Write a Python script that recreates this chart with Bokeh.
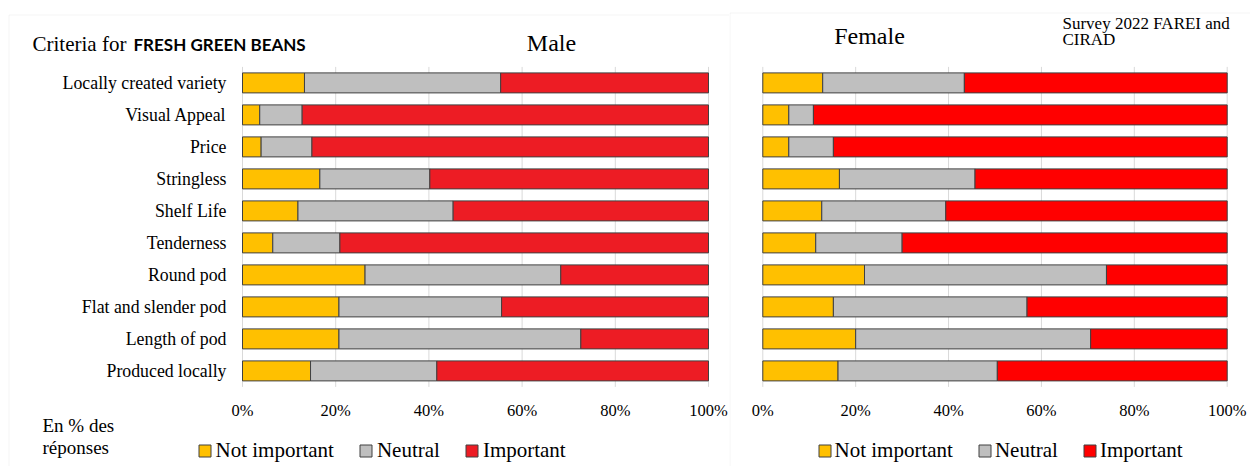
from bokeh.plotting import figure
from bokeh.models import (ColumnDataSource, Range1d, Label, Legend,
                          LegendItem, BoxAnnotation)
from bokeh.core.properties import value
from bokeh.layouts import row
from bokeh.embed import file_html
from bokeh.resources import INLINE

# ---------------- data (top to bottom) ----------------
categories = ["Locally created variety", "Visual Appeal", "Price", "Stringless",
              "Shelf Life", "Tenderness", "Round pod", "Flat and slender pod",
              "Length of pod", "Produced locally"]
series_names = ["Not important", "Neutral", "Important"]

male_not_important = [13.3, 3.7, 4.0, 16.6, 11.9, 6.5, 26.3, 20.7, 20.7, 14.6]
male_neutral = [42.1, 9.1, 10.9, 23.6, 33.3, 14.4, 42.0, 34.9, 51.9, 27.1]
male_important = [44.6, 87.2, 85.1, 59.8, 54.8, 79.1, 31.7, 44.4, 27.4, 58.3]

female_not_important = [12.9, 5.6, 5.6, 16.5, 12.7, 11.4, 21.9, 15.2, 20.0, 16.2]
female_neutral = [30.5, 5.3, 9.6, 29.2, 26.7, 18.6, 52.1, 41.7, 50.6, 34.3]
female_important = [56.6, 89.1, 84.8, 54.3, 60.6, 70.0, 26.0, 43.1, 29.4, 49.5]

x_ticks = [0, 20, 40, 60, 80, 100]
x_tick_labels = ["0%", "20%", "40%", "60%", "80%", "100%"]

YELLOW = "#FFC000"
GREY = "#BFBFBF"
MALE_RED = "#ED1C24"
FEMALE_RED = "#FF0000"
EDGE = "#404040"
GRID = "#D9D9D9"
PANEL = "#D9D9D9"
SERIF = "Liberation Serif"

H = 466          # canvas height
ROW_PX = 32.0    # pixels per category
TOP_ROW_PX = 82.4


def make_panel(width, bar_left_px, bar_px, vals, red, show_y, legend_xy, spacing,
               standoff):
    n = len(categories)
    ypos = [n - 1 - i for i in range(n)]
    src = ColumnDataSource(dict(y=ypos, cat=categories,
                                a=vals[0], b=vals[1], c=vals[2]))
    s = bar_px / 100.0
    xr = Range1d(-bar_left_px / s, (width - bar_left_px) / s)
    yr = Range1d((n - 1) - (H - TOP_ROW_PX) / ROW_PX, (n - 1) + TOP_ROW_PX / ROW_PX)
    p = figure(width=width, height=H, x_range=xr, y_range=yr,
               output_backend="svg", toolbar_location=None,
               x_axis_location=None, y_axis_location=None,
               min_border=0, min_border_left=0, min_border_right=0,
               min_border_top=0, min_border_bottom=0)
    p.outline_line_color = None
    p.background_fill_color = "white"
    p.border_fill_color = "white"
    p.grid.visible = False

    # vertical gridlines
    p.segment(x0=x_ticks, x1=x_ticks, y0=-0.5, y1=n - 0.5,
              line_color=GRID, line_width=1)

    # x tick labels
    p.text(x=x_ticks, y=-1.2375, text=x_tick_labels, text_align="center",
           text_baseline="middle", text_font=value(SERIF),
           text_font_size="16.5px", text_color="#000000")

    if show_y:
        p.text(x=-16.0 / s, y="y", text="cat", source=src, text_align="right",
               text_baseline="middle", text_font=value(SERIF),
               text_font_size="17.8px", text_color="#000000")

    rs = p.hbar_stack(["a", "b", "c"], y="y", height=0.625, source=src,
                      fill_color=[YELLOW, GREY, red], line_color=EDGE,
                      line_width=1)

    legend = Legend(items=[LegendItem(label=sn, renderers=[r])
                           for sn, r in zip(series_names, rs)],
                    orientation="horizontal", location=legend_xy,
                    glyph_width=15, glyph_height=15, label_standoff=standoff,
                    spacing=spacing, padding=0, margin=0,
                    border_line_color=None, background_fill_alpha=0,
                    label_text_font=SERIF, label_text_font_size="21px",
                    label_text_color="#000000")
    p.add_layout(legend)
    return p, s


male_fig, sm = make_panel(729, 242.0, 466.0,
                          [male_not_important, male_neutral, male_important],
                          MALE_RED, True, (196.5, 3), 24, 4)
female_fig, sf = make_panel(521, 33.3, 464.4,
                            [female_not_important, female_neutral, female_important],
                            FEMALE_RED, False, (87.5, 3), 24, 3)


def px_to_x(px, left, s):
    return (px - left) / s


def px_to_y(py):
    return 9 - (py - TOP_ROW_PX) / ROW_PX


# panel borders (only left and top edges fall inside each canvas)
male_fig.add_layout(BoxAnnotation(left=px_to_x(8.5, 242.0, sm), right=500,
                                  top=px_to_y(14.5), bottom=-20,
                                  fill_color=None, fill_alpha=0,
                                  line_color=PANEL, line_width=1))
female_fig.add_layout(BoxAnnotation(left=px_to_x(0.5, 33.3, sf), right=500,
                                    top=px_to_y(12.5), bottom=-20,
                                    fill_color=None, fill_alpha=0,
                                    line_color=PANEL, line_width=1))


def lab(p, x, y, text, size, align="left", font=SERIF, style="normal"):
    p.add_layout(Label(x=x, y=y, text=text, text_font=font,
                       text_font_size=size, text_align=align,
                       text_baseline="alphabetic", text_font_style=style,
                       text_color="#000000"))


lab(male_fig, px_to_x(32, 242.0, sm), px_to_y(43.5), "Criteria for", "21px")
lab(male_fig, px_to_x(133, 242.0, sm), px_to_y(43.5), "FRESH GREEN BEANS", "17px",
    font="Lato", style="bold")
lab(male_fig, px_to_x(551, 242.0, sm), px_to_y(42), "Male", "24px", align="center")
lab(male_fig, px_to_x(42, 242.0, sm), px_to_y(425), "En % des", "19px")
lab(male_fig, px_to_x(42, 242.0, sm), px_to_y(447), "réponses", "19px")

lab(female_fig, px_to_x(140, 33.3, sf), px_to_y(35), "Female", "24px", align="center")
lab(female_fig, px_to_x(333, 33.3, sf), px_to_y(23), "Survey 2022 FAREI and", "17px")
lab(female_fig, px_to_x(333, 33.3, sf), px_to_y(39), "CIRAD", "17px")

layout = row(male_fig, female_fig)
open("out.html", "w").write(file_html(layout, INLINE))
